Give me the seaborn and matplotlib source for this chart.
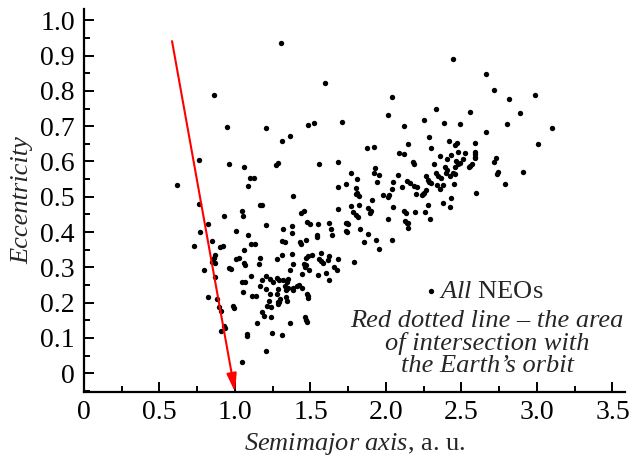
import numpy as np
import pandas as pd
import seaborn as sns
import matplotlib
matplotlib.use("Agg")
import matplotlib.pyplot as plt
from matplotlib.ticker import MultipleLocator, FixedLocator, FixedFormatter

# ---- data: (semimajor axis [a.u.], eccentricity) ----
neos_inner = [
    (1.307, 0.936), (0.863, 0.787), (0.949, 0.699), (1.207, 0.694), (0.762, 0.603),
    (0.958, 0.593), (1.062, 0.585), (1.272, 0.589), (1.285, 0.596), (1.097, 0.552),
    (1.126, 0.552), (1.084, 0.531), (0.618, 0.534),
    (0.764, 0.481), (1.166, 0.478), (1.179, 0.478), (1.044, 0.459), (1.053, 0.447),
    (0.929, 0.446), (0.823, 0.423), (1.207, 0.419), (0.766, 0.399), (1.004, 0.403),
    (1.084, 0.391), (0.726, 0.360), (0.850, 0.374), (0.901, 0.358), (0.923, 0.362),
    (1.104, 0.366), (1.130, 0.366), (1.062, 0.350), (0.865, 0.335), (0.858, 0.328),
    (1.004, 0.324), (1.029, 0.328), (1.166, 0.326), (1.276, 0.324), (1.060, 0.313),
    (1.064, 0.306), (0.848, 0.315), (0.870, 0.313), (1.159, 0.311), (0.960, 0.299),
    (0.971, 0.295), (0.797, 0.292), (0.865, 0.273), (1.106, 0.275), (1.207, 0.275),
    (1.177, 0.264), (1.234, 0.266), (1.249, 0.260), (1.276, 0.269), (1.289, 0.264),
    (1.044, 0.258), (1.066, 0.260), (1.166, 0.248), (1.205, 0.239), (1.287, 0.238),
    (1.053, 0.231), (1.234, 0.224), (1.115, 0.219), (1.141, 0.220), (0.821, 0.216),
    (0.883, 0.210), (1.225, 0.206), (1.209, 0.192), (1.240, 0.188), (1.282, 0.197),
    (1.293, 0.202), (0.896, 0.189), (0.905, 0.176), (0.989, 0.191), (0.991, 0.184),
    (1.177, 0.173), (1.194, 0.163), (1.238, 0.159), (1.143, 0.143), (0.929, 0.135),
    (0.934, 0.127), (0.905, 0.121), (1.077, 0.111), (1.079, 0.105), (1.247, 0.114),
    (1.207, 0.064), (1.048, 0.031),
]

neos_middle = [
    (1.680, 0.527), (1.735, 0.536), (1.810, 0.512), (1.803, 0.507), (1.819, 0.503),
    (1.942, 0.542), (2.046, 0.542), (2.103, 0.528), (2.159, 0.538), (2.185, 0.530),
    (2.203, 0.527), (2.254, 0.511), (2.245, 0.507), (2.238, 0.504), (2.298, 0.540),
    (2.338, 0.534), (2.375, 0.534), (2.452, 0.535), (2.262, 0.519), (1.982, 0.506),
    (2.013, 0.500), (2.018, 0.505), (2.042, 0.521), (1.384, 0.503), (1.766, 0.474),
    (1.821, 0.478), (1.680, 0.465), (1.878, 0.467), (1.901, 0.460), (2.046, 0.472),
    (2.121, 0.460), (2.130, 0.453), (2.194, 0.456), (2.260, 0.456), (2.278, 0.477),
    (2.291, 0.437), (2.375, 0.483), (2.424, 0.472), (2.428, 0.497), (1.435, 0.453),
    (1.459, 0.460), (1.784, 0.456), (1.803, 0.449), (1.812, 0.442), (1.891, 0.453),
    (2.013, 0.436), (2.126, 0.432), (2.137, 0.426), (2.143, 0.425), (2.148, 0.413),
    (1.479, 0.429), (1.497, 0.423), (1.552, 0.423), (1.623, 0.426), (1.636, 0.410),
    (1.735, 0.426), (1.744, 0.425), (1.750, 0.422), (1.732, 0.404), (1.744, 0.401),
    (1.828, 0.410), (1.315, 0.408), (1.377, 0.417), (1.379, 0.398), (1.545, 0.391),
    (1.540, 0.385), (1.640, 0.391), (1.883, 0.394), (1.933, 0.379), (1.854, 0.372),
    (2.037, 0.379), (1.954, 0.351), (1.313, 0.375), (1.329, 0.372), (1.430, 0.372),
    (1.437, 0.365), (1.470, 0.377), (1.379, 0.338), (1.309, 0.335), (1.510, 0.335),
    (1.481, 0.333), (1.468, 0.328), (1.570, 0.340), (1.559, 0.323), (1.570, 0.318),
    (1.585, 0.313), (1.623, 0.332), (1.614, 0.321), (1.682, 0.323), (1.656, 0.300),
    (1.673, 0.294), (1.788, 0.316), (1.457, 0.311), (1.470, 0.307), (1.464, 0.300),
    (1.364, 0.294), (1.386, 0.309), (1.441, 0.280), (1.492, 0.292), (1.549, 0.278),
    (1.603, 0.285), (1.623, 0.263), (1.320, 0.264), (1.342, 0.260), (1.353, 0.267),
    (1.331, 0.247), (1.338, 0.236), (1.349, 0.241), (1.382, 0.236), (1.386, 0.242),
    (1.408, 0.247), (1.426, 0.249), (1.441, 0.243), (1.276, 0.226), (1.474, 0.226),
    (1.481, 0.219), (1.485, 0.212), (1.335, 0.217), (1.342, 0.206), (1.298, 0.210),
    (1.287, 0.201), (1.464, 0.160), (1.470, 0.151), (1.474, 0.146), (1.364, 0.143),
    (1.313, 0.108),
]

neos_upper = [
    (1.594, 0.823), (2.040, 0.782), (2.329, 0.750), (2.015, 0.731), (2.254, 0.717),
    (2.384, 0.708), (2.121, 0.701), (1.481, 0.702), (1.521, 0.708), (1.706, 0.713),
    (1.313, 0.658), (1.362, 0.671), (1.559, 0.594), (1.684, 0.598), (1.874, 0.638),
    (1.923, 0.640), (2.084, 0.623), (2.121, 0.620), (2.143, 0.649), (2.287, 0.669),
    (2.295, 0.639), (2.181, 0.599), (2.185, 0.594), (2.358, 0.615), (2.417, 0.658),
    (2.401, 0.606), (1.927, 0.582), (1.923, 0.566), (1.954, 0.561), (1.768, 0.567),
    (1.808, 0.549), (1.799, 0.524), (2.082, 0.561), (2.141, 0.544), (2.199, 0.509),
    (2.262, 0.559), (2.275, 0.547), (2.287, 0.541), (2.320, 0.592), (2.329, 0.566),
    (2.347, 0.559), (2.366, 0.552), (2.358, 0.522), (2.391, 0.583), (2.401, 0.575),
    (2.397, 0.566), (1.909, 0.492),
]

neos_outer = [
    (2.446, 0.891), (2.660, 0.847), (2.715, 0.802), (2.817, 0.777), (2.987, 0.787),
    (2.889, 0.737), (2.556, 0.739), (2.803, 0.707), (3.097, 0.696), (2.492, 0.705),
    (2.662, 0.683), (3.009, 0.650), (2.592, 0.652), (2.457, 0.646), (2.468, 0.651),
    (2.592, 0.627), (2.592, 0.621), (2.589, 0.613), (2.587, 0.609), (2.523, 0.624),
    (2.477, 0.627), (2.433, 0.619), (2.507, 0.608), (2.464, 0.602), (2.479, 0.594),
    (2.490, 0.597), (2.457, 0.585), (2.556, 0.587), (2.567, 0.592), (2.547, 0.583),
    (2.715, 0.599), (2.728, 0.609), (2.733, 0.564), (2.744, 0.569), (2.909, 0.570),
    (2.788, 0.535), (2.596, 0.511), (2.441, 0.566), (2.457, 0.564), (2.424, 0.559),
]

# Earth-orbit intersection line: start and end (a, e)
arrow_start = (0.583, 0.941)
arrow_end = (1.0, -0.053)

x_ticks = [0, 0.5, 1.0, 1.5, 2.0, 2.5, 3.0, 3.5]
x_ticklabels = ["0", "0.5", "1.0", "1.5", "2.0", "2.5", "3.0", "3.5"]
y_ticks = [0, 0.1, 0.2, 0.3, 0.4, 0.5, 0.6, 0.7, 0.8, 0.9, 1.0]
y_ticklabels = ["0", "0.1", "0.2", "0.3", "0.4", "0.5", "0.6", "0.7", "0.8", "0.9", "1.0"]

# ---- figure ----
sns.set_style("ticks")
plt.rcParams["font.family"] = ["Liberation Serif", "DejaVu Serif"]
plt.rcParams["mathtext.fontset"] = "custom"
plt.rcParams["mathtext.rm"] = "Liberation Serif"
plt.rcParams["mathtext.it"] = "Liberation Serif:italic"

pts = neos_inner + neos_middle + neos_upper + neos_outer
df = pd.DataFrame(pts, columns=["a", "e"])

fig = plt.figure(figsize=(6.3, 4.57), dpi=100)
ax = fig.add_axes([84 / 630, 1 - 392 / 457, 541 / 630, 383 / 457])

sns.scatterplot(data=df, x="a", y="e", ax=ax, s=15, color="black",
                linewidth=0, label=r"$\mathit{All}$ NEOs", zorder=3)

ax.set_xlim(0, 3.583)
ax.set_ylim(-0.053, 1.032)

ax.annotate("", xy=arrow_end, xytext=arrow_start,
            arrowprops=dict(arrowstyle="-|>,head_length=1.1,head_width=0.3",
                            color="red", lw=1.5, mutation_scale=10,
                            shrinkA=0, shrinkB=0),
            annotation_clip=False, zorder=4)

for side in ["top", "right"]:
    ax.spines[side].set_visible(False)
for side in ["left", "bottom"]:
    ax.spines[side].set_linewidth(1.6)
    ax.spines[side].set_color("black")

ax.xaxis.set_major_locator(FixedLocator(x_ticks))
ax.xaxis.set_major_formatter(FixedFormatter(x_ticklabels))
ax.yaxis.set_major_locator(FixedLocator(y_ticks))
ax.yaxis.set_major_formatter(FixedFormatter(y_ticklabels))
ax.xaxis.set_minor_locator(MultipleLocator(0.25))
ax.yaxis.set_minor_locator(MultipleLocator(0.05))
ax.tick_params(which="both", direction="in", width=1.4, colors="black",
               labelsize=20)
ax.tick_params(which="major", length=7.2)
ax.tick_params(which="minor", length=4.6)
ax.tick_params(axis="y", which="major", pad=6.5)
ax.tick_params(axis="x", which="major", pad=6)

ax.set_xlabel(r"$\mathit{Semimajor\ axis}$, a. u.", fontsize=19, labelpad=4)
ax.set_ylabel("Eccentricity", fontsize=19, fontstyle="italic", labelpad=5)

ax.legend(loc="center", bbox_to_anchor=(0.74, 0.262), frameon=False,
          handletextpad=0.1, handlelength=0.45, borderpad=0, fontsize=19,
          markerscale=1)
ax.text(0.745, 0.127,
        "Red dotted line \u2013 the area\nof intersection with\nthe Earth\u2019s orbit",
        transform=ax.transAxes, ha="center", va="center", fontstyle="italic",
        fontsize=19, linespacing=0.98)

fig.savefig("out.png", dpi=100)
